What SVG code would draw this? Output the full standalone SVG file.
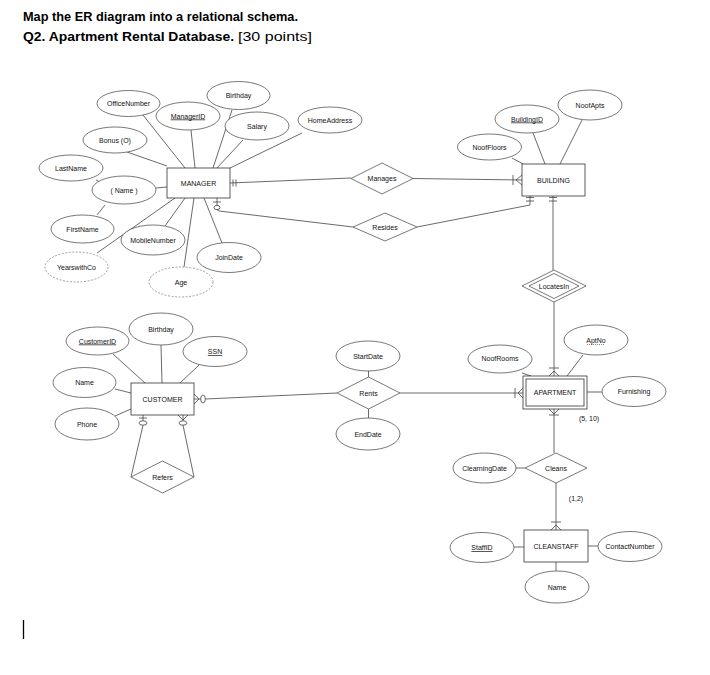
<svg xmlns="http://www.w3.org/2000/svg" width="710" height="675" viewBox="0 0 710 675">
<style>
.e{fill:#fff;stroke:#555;stroke-width:0.8}
.dash{stroke-dasharray:2,1.5;stroke:#888}
.r{fill:#fff;stroke:#333;stroke-width:0.8}
.l{fill:none;stroke:#444;stroke-width:0.8}
.t{font-family:"Liberation Sans",Arial,sans-serif;font-size:7px;text-anchor:middle;fill:#111}
.u{text-decoration:underline}
.h{font-family:"Liberation Sans",Arial,sans-serif;font-size:12px;fill:#000}
</style>
<rect width="710" height="675" fill="#fff"/>
<g id="title">
<text class="h" x="23" y="21" font-weight="bold" textLength="275" lengthAdjust="spacingAndGlyphs">Map the ER diagram into a relational schema.</text>
<text class="h" x="23" y="41" font-weight="bold" textLength="211" lengthAdjust="spacingAndGlyphs">Q2. Apartment Rental Database.</text>
<text class="h" x="238" y="41" textLength="74" lengthAdjust="spacingAndGlyphs">[30 points]</text>
<line x1="23.5" y1="620" x2="23.5" y2="639" stroke="#000" stroke-width="1.3"/>
</g>
<g id="connectors">
<line class="l" x1="143" y1="115" x2="185" y2="168"/>
<line class="l" x1="191" y1="130" x2="195" y2="168"/>
<line class="l" x1="232" y1="110" x2="213" y2="168"/>
<line class="l" x1="243" y1="140" x2="217" y2="168"/>
<line class="l" x1="302" y1="133" x2="230" y2="168"/>
<line class="l" x1="127" y1="152" x2="167" y2="166"/>
<line class="l" x1="156" y1="188" x2="167" y2="187"/>
<line class="l" x1="96" y1="180" x2="100" y2="182"/>
<line class="l" x1="105" y1="205" x2="97" y2="215"/>
<line class="l" x1="97" y1="253" x2="175" y2="198"/>
<line class="l" x1="165" y1="226" x2="185" y2="198"/>
<line class="l" x1="184" y1="267" x2="194" y2="198"/>
<line class="l" x1="222" y1="243" x2="204" y2="198"/>
<line class="l" x1="230" y1="183" x2="351" y2="178"/>
<line class="l" x1="233" y1="179.5" x2="233" y2="186.5"/>
<line class="l" x1="236" y1="179.5" x2="236" y2="186.5"/>
<line class="l" x1="413" y1="178.5" x2="522" y2="180"/>
<line class="l" x1="513" y1="175" x2="513" y2="185"/>
<polyline class="l" points="522,175 516,180 522,185"/>
<line class="l" x1="217" y1="198" x2="217" y2="205.3"/>
<line class="l" x1="213" y1="202" x2="221" y2="202"/>
<ellipse class="l" cx="217" cy="207.5" rx="3" ry="2.2"/>
<polyline class="l" points="217,209.7 219,211 353,227"/>
<polyline class="l" points="417,227 530,205 530,196"/>
<line class="l" x1="526" y1="197.5" x2="534" y2="197.5"/>
<line class="l" x1="526" y1="201" x2="534" y2="201"/>
<line class="l" x1="512" y1="158" x2="523" y2="164"/>
<line class="l" x1="533" y1="133" x2="545" y2="164"/>
<line class="l" x1="582" y1="120" x2="560" y2="164"/>
<line class="l" x1="553" y1="196" x2="553" y2="270"/>
<line class="l" x1="549" y1="197.5" x2="557" y2="197.5"/>
<line class="l" x1="549" y1="201" x2="557" y2="201"/>
<line class="l" x1="554" y1="302" x2="554" y2="376"/>
<line class="l" x1="549" y1="368" x2="559" y2="368"/>
<polyline class="l" points="549,376 554,371 559,376"/>
<line class="l" x1="522" y1="373" x2="531" y2="376"/>
<line class="l" x1="583" y1="355" x2="567" y2="376"/>
<line class="l" x1="587" y1="392" x2="602" y2="392"/>
<line class="l" x1="400" y1="393" x2="523" y2="393"/>
<line class="l" x1="515" y1="388" x2="515" y2="398"/>
<polyline class="l" points="523,388 518,393 523,398"/>
<line class="l" x1="368.5" y1="371" x2="368.5" y2="377"/>
<line class="l" x1="368.5" y1="409" x2="368.5" y2="418"/>
<line class="l" x1="194" y1="399" x2="200.7" y2="399"/>
<polyline class="l" points="194,394 199,399 194,404"/>
<ellipse class="l" cx="203" cy="399" rx="2.3" ry="4"/>
<line class="l" x1="205.3" y1="399" x2="337" y2="393"/>
<line class="l" x1="113" y1="354" x2="145" y2="383"/>
<line class="l" x1="161" y1="345" x2="162" y2="383"/>
<line class="l" x1="199" y1="365" x2="180" y2="383"/>
<line class="l" x1="115" y1="389" x2="131" y2="393"/>
<line class="l" x1="115" y1="416" x2="131" y2="409"/>
<line class="l" x1="143" y1="415" x2="143" y2="420.8"/>
<line class="l" x1="139" y1="418" x2="147" y2="418"/>
<ellipse class="l" cx="143" cy="423" rx="4" ry="2.2"/>
<line class="l" x1="143" y1="425.2" x2="131" y2="477"/>
<line class="l" x1="183" y1="415" x2="183" y2="420.8"/>
<polyline class="l" points="178,415 183,420 188,415"/>
<ellipse class="l" cx="183" cy="423" rx="4" ry="2.2"/>
<line class="l" x1="183" y1="425.2" x2="194" y2="477"/>
<line class="l" x1="554" y1="409" x2="554" y2="453"/>
<line class="l" x1="549" y1="415" x2="559" y2="415"/>
<polyline class="l" points="549,409 554,414 559,409"/>
<line class="l" x1="516" y1="468" x2="525" y2="468"/>
<line class="l" x1="556" y1="483" x2="556" y2="530"/>
<line class="l" x1="551" y1="522" x2="561" y2="522"/>
<polyline class="l" points="551,530 556,525 561,530"/>
<line class="l" x1="514" y1="547" x2="524" y2="547"/>
<line class="l" x1="588" y1="546" x2="598" y2="546"/>
<line class="l" x1="556" y1="562" x2="556" y2="571"/>
</g>
<g id="MANAGER"><rect class="r" x="167" y="168" width="63" height="30"/><text class="t" x="198.5" y="185.5">MANAGER</text></g>
<g id="OfficeNumber"><ellipse class="e" cx="128.5" cy="103.5" rx="31.5" ry="13"/><text class="t" x="128.5" y="106">OfficeNumber</text></g>
<g id="ManagerID"><ellipse class="e" cx="188" cy="116" rx="32" ry="14"/><text class="t u" x="188" y="118.5">ManagerID</text></g>
<g id="Birthday1"><ellipse class="e" cx="238.5" cy="95.5" rx="31.5" ry="14"/><text class="t" x="238.5" y="98">Birthday</text></g>
<g id="Salary"><ellipse class="e" cx="257" cy="126" rx="32" ry="14"/><text class="t" x="257" y="128.5">Salary</text></g>
<g id="HomeAddress"><ellipse class="e" cx="330" cy="120" rx="32" ry="13"/><text class="t" x="330" y="122.5">HomeAddress</text></g>
<g id="Bonus"><ellipse class="e" cx="115" cy="140" rx="32" ry="13"/><text class="t" x="115" y="142.5">Bonus (O)</text></g>
<g id="LastName"><ellipse class="e" cx="71" cy="168" rx="32" ry="13"/><text class="t" x="71" y="170.5">LastName</text></g>
<g id="NameM"><ellipse class="e" cx="124" cy="190" rx="32" ry="14"/><text class="t" x="124" y="192.5">( Name )</text></g>
<g id="FirstName"><ellipse class="e" cx="82.5" cy="229" rx="31.5" ry="14"/><text class="t" x="82.5" y="231.5">FirstName</text></g>
<g id="MobileNumber"><ellipse class="e" cx="153" cy="240" rx="32" ry="15"/><text class="t" x="153" y="242.5">MobileNumber</text></g>
<g id="YearswithCo"><ellipse class="e dash" cx="76.5" cy="267" rx="31.5" ry="15"/><text class="t" x="76.5" y="269.5">YearswithCo</text></g>
<g id="Age"><ellipse class="e dash" cx="181" cy="282" rx="32" ry="15"/><text class="t" x="181" y="284.5">Age</text></g>
<g id="JoinDate"><ellipse class="e" cx="229" cy="257.5" rx="32" ry="15"/><text class="t" x="229" y="260">JoinDate</text></g>
<g id="Manages"><polygon class="e" points="382,163 413,178.5 382,194 351,178.5"/><text class="t" x="382" y="181">Manages</text></g>
<g id="Resides"><polygon class="e" points="385,213 417,227 385,241 353,227"/><text class="t" x="385" y="229.5">Resides</text></g>
<g id="BUILDING"><rect class="r" x="522" y="164" width="63" height="32"/><text class="t" x="553.5" y="182.5">BUILDING</text></g>
<g id="NoofFloors"><ellipse class="e" cx="489.5" cy="147" rx="32" ry="13"/><text class="t" x="489.5" y="149.5">NoofFloors</text></g>
<g id="BuildingID"><ellipse class="e" cx="527" cy="119" rx="32" ry="14"/><text class="t u" x="527" y="121.5">BuildingID</text></g>
<g id="NoofApts"><ellipse class="e" cx="590" cy="105" rx="32" ry="15"/><text class="t" x="590" y="107.5">NoofApts</text></g>
<g id="Locatesin"><polygon class="e" points="554,270 586,286 554,302 522,286"/><polygon class="e" points="554,273.5 579,286 554,298.5 529,286"/><text class="t" x="554" y="288.5">LocatesIn</text></g>
<g id="APARTMENT"><rect class="r" x="523" y="376" width="64" height="33"/><rect class="r" x="526" y="379" width="58" height="27"/><text class="t" x="555" y="395">APARTMENT</text></g>
<g id="NoofRooms"><ellipse class="e" cx="500" cy="359" rx="32" ry="14"/><text class="t" x="500" y="361">NoofRooms</text></g>
<g id="AptNo"><ellipse class="e" cx="596" cy="340" rx="32" ry="15"/><text class="t" x="596" y="342.5">AptNo</text><line x1="587" y1="344.5" x2="605" y2="344.5" stroke="#333" stroke-width="0.6" stroke-dasharray="1,1"/></g>
<g id="Furnishing"><ellipse class="e" cx="634" cy="391.5" rx="32" ry="15"/><text class="t" x="634" y="394">Furnishing</text></g>
<text class="t" x="589" y="420.5">(5, 10)</text>
<g id="CUSTOMER"><rect class="r" x="131" y="383" width="63" height="32"/><text class="t" x="162.5" y="401.5">CUSTOMER</text></g>
<g id="CustomerID"><ellipse class="e" cx="97.5" cy="341" rx="31.5" ry="14"/><text class="t u" x="97.5" y="343.5">CustomerID</text></g>
<g id="Birthday2"><ellipse class="e" cx="161" cy="329" rx="32" ry="16"/><text class="t" x="161" y="331.5">Birthday</text></g>
<g id="SSN"><ellipse class="e" cx="215" cy="351.5" rx="32" ry="15"/><text class="t u" x="215" y="354">SSN</text></g>
<g id="NameC"><ellipse class="e" cx="84.5" cy="382.5" rx="31.5" ry="15"/><text class="t" x="84.5" y="385">Name</text></g>
<g id="Phone"><ellipse class="e" cx="87" cy="424" rx="32" ry="16"/><text class="t" x="87" y="426.5">Phone</text></g>
<g id="Refers"><polygon class="e" points="162.5,461 194,477 162.5,493 131,477"/><text class="t" x="162.5" y="479.5">Refers</text></g>
<g id="Rents"><polygon class="e" points="368.5,377 400,393 368.5,409 337,393"/><text class="t" x="368.5" y="395.5">Rents</text></g>
<g id="StartDate"><ellipse class="e" cx="368" cy="356" rx="32" ry="15"/><text class="t" x="368" y="358.5">StartDate</text></g>
<g id="EndDate"><ellipse class="e" cx="368" cy="434" rx="32" ry="16"/><text class="t" x="368" y="436.5">EndDate</text></g>
<g id="Cleans"><polygon class="e" points="556,453 587,468 556,483 525,468"/><text class="t" x="556" y="470.5">Cleans</text></g>
<g id="ClearningDate"><ellipse class="e" cx="484.5" cy="468" rx="31.5" ry="15"/><text class="t" x="484.5" y="470.5">ClearningDate</text></g>
<text class="t" x="576" y="501">(1,2)</text>
<g id="CLEANSTAFF"><rect class="r" x="524" y="530" width="64" height="32"/><text class="t" x="556" y="548.5">CLEANSTAFF</text></g>
<g id="StaffID"><ellipse class="e" cx="482" cy="547.5" rx="32" ry="15"/><text class="t u" x="482" y="550">StaffID</text></g>
<g id="ContactNumber"><ellipse class="e" cx="630" cy="546.5" rx="32" ry="15"/><text class="t" x="630" y="549">ContactNumber</text></g>
<g id="NameS"><ellipse class="e" cx="557" cy="587" rx="32" ry="16"/><text class="t" x="557" y="589.5">Name</text></g>
</svg>
